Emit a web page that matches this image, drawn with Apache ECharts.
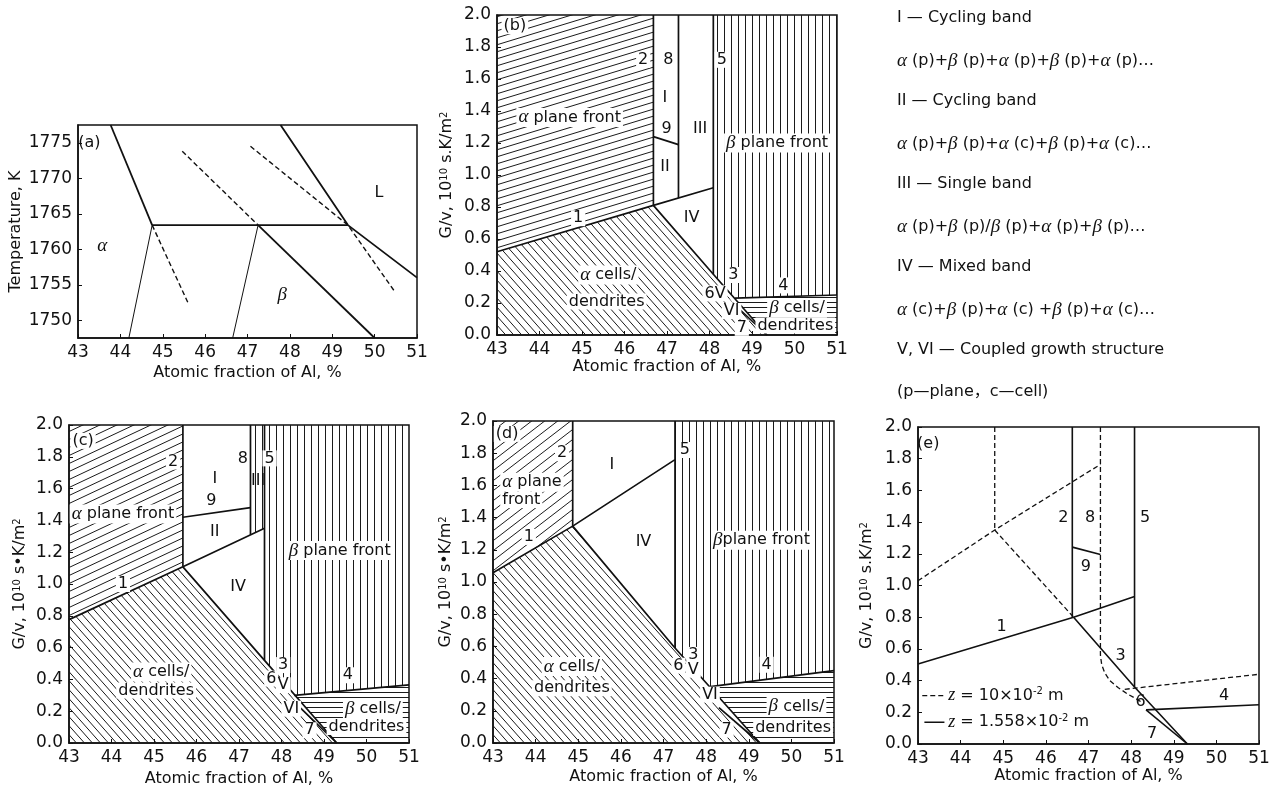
<!DOCTYPE html>
<html><head><meta charset="utf-8">
<script src="https://cdn.jsdelivr.net/npm/echarts@6/dist/echarts.min.js"></script>
<style>html,body{margin:0;padding:0;background:#fff}#c{width:1274px;height:796px}</style>
</head><body><div id="c"></div>
<script>
// ================= DATA =================
const xTicks = [43, 44, 45, 46, 47, 48, 49, 50, 51];
const tempTicks = [1750, 1755, 1760, 1765, 1770, 1775];
const xTitle = 'Atomic fraction of Al, %';
const tempTitle = 'Temperature, K';
const gvTitleDot = 'G/v, 10{sup|10} s.K/m{sup|2}';
const gvTitleBullet = 'G/v, 10{sup|10} s•K/m{sup|2}';

// ---- panel (a): phase diagram ----
const aThick = [
  [[43.77, 1777.5], [44.75, 1763.4]],
  [[44.75, 1763.4], [49.37, 1763.4]],
  [[47.78, 1777.5], [49.37, 1763.4], [51.0, 1756.0]],
  [[47.25, 1763.4], [50.0, 1747.5]]
];
const aThin = [
  [[44.75, 1763.4], [44.20, 1747.5]],
  [[47.25, 1763.4], [46.65, 1747.5]]
];
const aDashed = [
  [[44.75, 1763.4], [45.60, 1752.4]],
  [[45.46, 1773.8], [47.25, 1763.4]],
  [[47.07, 1774.5], [49.37, 1763.4], [50.49, 1753.9]]
];
const aLabels = [
  [43.27, 1775.0, '(a)'], [43.57, 1760.4, '{g|α}'], [47.82, 1753.6, '{g|β}'], [50.1, 1768.0, 'L']
];

// ---- panel (b) ----
const bLines = [
  [[43, 0.52], [46.68, 0.81], [48.09, 0.92]],
  [[46.68, 2], [46.68, 0.81]],
  [[47.27, 2], [47.27, 0.856]],
  [[46.68, 1.24], [47.27, 1.19]],
  [[48.09, 2], [48.09, 0.38]],
  [[46.68, 0.81], [48.09, 0.38], [49.35, 0]],
  [[48.6, 0.23], [51, 0.25]],
  [[48.55, 0.2], [49.35, 0]]
];
const bAlphaPlane = [[43, 2], [46.68, 2], [46.68, 0.81], [43, 0.52]];
const bAlphaCells = [[43, 0], [43, 0.52], [46.68, 0.81], [48.09, 0.38], [48.55, 0.2], [49.35, 0]];
const bBetaPlane = [[48.09, 2], [51, 2], [51, 0.25], [48.6, 0.23], [48.09, 0.38]];
const bBetaCells = [[48.6, 0.23], [51, 0.25], [51, 0], [49.35, 0]];
const bLabels = [
  [43.42, 1.93, '(b)', 1], [46.44, 1.72, '2', 1], [47.03, 1.72, '8'], [48.29, 1.72, '5', 1],
  [46.95, 1.48, 'I'], [46.99, 1.29, '9'], [47.78, 1.29, 'III'], [46.95, 1.05, 'II'],
  [44.71, 1.36, '{g|α} plane front', 1], [49.59, 1.20, '{g|β} plane front', 1],
  [44.91, 0.73, '1', 1], [47.58, 0.73, 'IV'],
  [45.62, 0.375, '{g|α} cells/', 1], [45.58, 0.21, 'dendrites', 1],
  [48.56, 0.375, '3', 1], [49.74, 0.31, '4', 1], [48.13, 0.26, '6V', 1], [48.52, 0.15, 'VI', 1],
  [48.76, 0.045, '7', 1], [50.06, 0.167, '{g|β} cells/', 1], [50.02, 0.06, 'dendrites', 1]
];

// ---- panel (c) ----
const cLines = [
  [[43, 0.776], [45.68, 1.108], [47.6, 1.35]],
  [[45.68, 2], [45.68, 1.108]],
  [[45.68, 1.42], [47.27, 1.48]],
  [[47.27, 2], [47.27, 1.31]],
  [[47.6, 2], [47.6, 0.52]],
  [[45.68, 1.108], [47.6, 0.52], [49.3, 0]],
  [[48.3, 0.30], [51, 0.365]],
  [[48.45, 0.22], [49.3, 0]]
];
const cAlphaPlane = [[43, 2], [45.68, 2], [45.68, 1.108], [43, 0.776]];
const cAlphaCells = [[43, 0], [43, 0.776], [45.68, 1.108], [47.6, 0.52], [48.45, 0.22], [49.3, 0]];
const cBetaPlane = [[47.6, 2], [51, 2], [51, 0.365], [48.3, 0.30], [47.6, 0.52]];
const cBandIII = [[47.27, 2], [47.6, 2], [47.6, 1.35], [47.27, 1.31]];
const cBetaCells = [[48.3, 0.30], [51, 0.365], [51, 0], [49.3, 0]];
const cLabels = [
  [43.33, 1.9, '(c)', 1], [45.45, 1.77, '2', 1], [47.09, 1.79, '8'], [47.72, 1.79, '5', 1],
  [46.43, 1.66, 'I'], [47.45, 1.65, 'III'], [46.35, 1.52, '9'],
  [44.27, 1.44, '{g|α} plane front', 1], [46.43, 1.33, 'II'], [49.37, 1.21, '{g|β} plane front', 1],
  [46.98, 0.98, 'IV'], [44.27, 1.0, '1', 1],
  [45.17, 0.447, '{g|α} cells/', 1], [45.05, 0.33, 'dendrites', 1],
  [48.04, 0.49, '3', 1], [47.76, 0.405, '6', 1], [48.04, 0.363, 'V', 1], [49.56, 0.426, '4', 1],
  [48.23, 0.216, 'VI', 1], [48.66, 0.08, '7', 1], [50.15, 0.216, '{g|β} cells/', 1], [50.0, 0.10, 'dendrites', 1]
];

// ---- panel (d) ----
const dLines = [
  [[43, 1.058], [44.87, 1.347], [47.27, 1.76]],
  [[44.87, 2], [44.87, 1.347]],
  [[47.27, 2], [47.27, 0.59]],
  [[44.87, 1.347], [47.27, 0.59], [49.26, 0]],
  [[48.1, 0.35], [51, 0.45]],
  [[48.3, 0.22], [49.26, 0]]
];
const dAlphaPlane = [[43, 2], [44.87, 2], [44.87, 1.347], [43, 1.058]];
const dAlphaCells = [[43, 0], [43, 1.058], [44.87, 1.347], [47.27, 0.59], [48.3, 0.22], [49.26, 0]];
const dBetaPlane = [[47.27, 2], [51, 2], [51, 0.45], [48.1, 0.35], [47.27, 0.59]];
const dBetaCells = [[48.1, 0.35], [51, 0.45], [51, 0], [49.26, 0]];
const dLabels = [
  [43.33, 1.92, '(d)', 1], [44.62, 1.80, '2', 1], [47.5, 1.82, '5', 1], [45.79, 1.725, 'I'],
  [43.17, 1.62, '{g|α} plane', 1, 'left'], [43.17, 1.51, 'front', 1, 'left'], [43.84, 1.28, '1', 1],
  [46.53, 1.25, 'IV'], [49.3, 1.26, '{g|β}plane front', 1],
  [44.85, 0.475, '{g|α} cells/', 1], [44.85, 0.34, 'dendrites', 1],
  [47.7, 0.547, '3', 1], [47.35, 0.48, '6', 1], [47.7, 0.455, 'V', 1], [49.42, 0.486, '4', 1],
  [48.09, 0.30, 'VI', 1], [48.48, 0.083, '7', 1], [50.12, 0.227, '{g|β} cells/', 1], [50.04, 0.093, 'dendrites', 1]
];

// ---- panel (e) ----
const eSolid = [
  [[43, 0.505], [46.65, 0.80], [48.08, 0.93]],
  [[46.62, 2], [46.62, 0.80]],
  [[46.62, 1.242], [47.28, 1.196]],
  [[48.08, 2], [48.08, 0.36]],
  [[46.65, 0.80], [48.08, 0.36], [49.32, 0]],
  [[48.35, 0.215], [51, 0.248]],
  [[48.35, 0.215], [49.32, 0]],
  [[43.15, 0.137], [43.62, 0.137]]
];
const eDashed = [
  [[43, 1.03], [44.8, 1.35], [47.28, 1.764]],
  [[44.8, 2], [44.8, 1.35]],
  [[44.8, 1.35], [46.65, 0.80]],
  [[47.28, 2], [47.28, 0.56], [47.31, 0.50], [47.38, 0.45], [47.5, 0.40], [47.7, 0.355], [47.92, 0.315], [48.12, 0.285], [48.3, 0.255]],
  [[47.85, 0.345], [51, 0.44]],
  [[43.1, 0.305], [43.62, 0.305]]
];
const eLabels = [
  [43.24, 1.895, '(e)'], [46.41, 1.43, '2'], [47.04, 1.43, '8'], [48.33, 1.43, '5'], [46.94, 1.116, '9'],
  [44.96, 0.737, '1'], [47.75, 0.558, '3'], [48.22, 0.263, '6'], [50.18, 0.305, '4'], [48.49, 0.063, '7'],
  [43.71, 0.305, '{i|z} = 10×10{sup|-2} m', 0, 'left'], [43.71, 0.137, '{i|z} = 1.558×10{sup|-2} m', 0, 'left']
];

// ---- right-hand key ----
const keyLines = [
  'I — Cycling band',
  '{g|α} (p)+{g|β} (p)+{g|α} (p)+{g|β} (p)+{g|α} (p)…',
  'II — Cycling band',
  '{g|α} (p)+{g|β} (p)+{g|α} (c)+{g|β} (p)+{g|α} (c)…',
  'III — Single band',
  '{g|α} (p)+{g|β} (p)/{g|β} (p)+{g|α} (p)+{g|β} (p)…',
  'IV — Mixed band',
  '{g|α} (c)+{g|β} (p)+{g|α} (c) +{g|β} (p)+{g|α} (c)…',
  'V, VI — Coupled growth structure',
  '(p—plane，c—cell)'
];

// ================= STYLE / LAYOUT =================
const FONT = 'DejaVu Sans';
const RICH = {
  g: { fontFamily: 'Liberation Serif', fontStyle: 'italic', fontSize: 19, color: '#111' },
  i: { fontFamily: 'Liberation Serif', fontStyle: 'italic', fontSize: 18, color: '#111' },
  sup: { fontSize: 10, verticalAlign: 'top', fontFamily: FONT, color: '#111' }
};

function makeHatch(kind, w, h) {
  const c = document.createElement('canvas');
  c.width = w; c.height = h;
  const g = c.getContext('2d');
  g.strokeStyle = '#1a1a1a'; g.lineWidth = 1;
  g.beginPath();
  if (kind === 'v') { g.moveTo(Math.floor(w / 2) + 0.5, 0); g.lineTo(Math.floor(w / 2) + 0.5, h); }
  else if (kind === 'h') { g.moveTo(0, Math.floor(h / 2) + 0.5); g.lineTo(w, Math.floor(h / 2) + 0.5); }
  else {
    const s = h / w;
    for (let k = -1; k <= 1; k++) {
      if (kind === 'fs') { g.moveTo(-2, h + k * h + 2 * s); g.lineTo(w + 2, k * h - 2 * s); }
      else { g.moveTo(-2, k * h - 2 * s); g.lineTo(w + 2, h + k * h + 2 * s); }
    }
  }
  g.stroke();
  return { image: c, repeat: 'repeat' };
}
const H = {
  apB: makeHatch('fs', 23, 7), apC: makeHatch('fs', 17, 8), apD: makeHatch('fs', 13, 10),
  ac: makeHatch('bs', 8, 9), bp: makeHatch('v', 7, 7), bc: makeHatch('h', 6, 5)
};

const grids = [
  { left: 78, top: 125, width: 339, height: 213 },
  { left: 497, top: 15, width: 340, height: 320 },
  { left: 69, top: 425, width: 340, height: 318 },
  { left: 493, top: 421, width: 341, height: 322 },
  { left: 918, top: 427, width: 341, height: 317 }
];
const xGaps = [27, 20, 28, 26, 24];
const yGaps = [54, 42, 41, 39, 43];

const series = [];
function poly(pts, gi, fill) {
  series.push({
    type: 'custom', xAxisIndex: gi, yAxisIndex: gi, z: 1, silent: true,
    data: [pts[0]],
    renderItem: (params, api) => ({
      type: 'polygon', shape: { points: pts.map(p => api.coord(p)) },
      style: { fill: fill, stroke: null }
    })
  });
}
function lines(list, gi, width, dashed) {
  list.forEach(d => series.push({
    type: 'line', xAxisIndex: gi, yAxisIndex: gi, data: d, symbol: 'none', z: 3, silent: true,
    lineStyle: { color: '#111', width: width, type: dashed ? [5, 3] : 'solid' }, animation: false
  }));
}
function labels(list, gi) {
  series.push({
    type: 'custom', xAxisIndex: gi, yAxisIndex: gi, z: 5, silent: true,
    data: list.map(l => [l[0], l[1]]),
    renderItem: (params, api) => {
      const l = list[params.dataIndex];
      const p = api.coord([l[0], l[1]]);
      return {
        type: 'text', x: p[0], y: p[1], z2: 10,
        style: {
          text: l[2], fill: '#111', fontSize: 16, fontFamily: FONT,
          align: l[4] || 'center', verticalAlign: 'middle',
          backgroundColor: l[3] ? '#fff' : null, padding: l[3] ? [0, 2, 0, 2] : 0,
          rich: RICH
        }
      };
    }
  });
}

// panel a
lines(aThick, 0, 1.8, false); lines(aThin, 0, 1, false); lines(aDashed, 0, 1.4, true); labels(aLabels, 0);
// panel b
poly(bAlphaPlane, 1, H.apB); poly(bAlphaCells, 1, H.ac); poly(bBetaPlane, 1, H.bp); poly(bBetaCells, 1, H.bc);
lines(bLines, 1, 1.7, false); labels(bLabels, 1);
// panel c
poly(cAlphaPlane, 2, H.apC); poly(cAlphaCells, 2, H.ac); poly(cBetaPlane, 2, H.bp); poly(cBandIII, 2, H.bp); poly(cBetaCells, 2, H.bc);
lines(cLines, 2, 1.7, false); labels(cLabels, 2);
// panel d
poly(dAlphaPlane, 3, H.apD); poly(dAlphaCells, 3, H.ac); poly(dBetaPlane, 3, H.bp); poly(dBetaCells, 3, H.bc);
lines(dLines, 3, 1.7, false); labels(dLabels, 3);
// panel e
lines(eSolid, 4, 1.6, false); lines(eDashed, 4, 1.3, true); labels(eLabels, 4);

const nameStyle = { color: '#111', fontSize: 16, fontFamily: FONT, rich: RICH };
const labelStyle = { color: '#111', fontSize: 17, fontFamily: FONT, margin: 6 };
const axisLine = { show: true, onZero: false, lineStyle: { color: '#111', width: 1.5 } };
const axisTick = { show: true, inside: true, length: 4, lineStyle: { color: '#111' } };

const xAxis = grids.map((g, i) => ({
  gridIndex: i, type: 'value', min: xTicks[0], max: xTicks[xTicks.length - 1], interval: 1,
  axisLine, axisTick, splitLine: { show: false },
  axisLabel: labelStyle,
  name: xTitle, nameLocation: 'middle', nameGap: xGaps[i], nameTextStyle: nameStyle
}));
const yNames = [tempTitle, gvTitleDot, gvTitleBullet, gvTitleBullet, gvTitleDot];
const yAxis = grids.map((g, i) => i === 0 ? ({
  gridIndex: 0, type: 'value', min: 1747.5, max: 1777.5, interval: 2.5,
  axisLine, splitLine: { show: false },
  axisTick: Object.assign({}, axisTick, { customValues: tempTicks }),
  axisLabel: Object.assign({}, labelStyle, { customValues: tempTicks, formatter: v => (v % 5 === 0 ? String(v) : '') }),
  name: yNames[0], nameLocation: 'middle', nameGap: yGaps[0], nameTextStyle: nameStyle
}) : ({
  gridIndex: i, type: 'value', min: 0, max: 2, interval: 0.2,
  axisLine, axisTick, splitLine: { show: false },
  axisLabel: Object.assign({}, labelStyle, { formatter: v => v.toFixed(1) }),
  name: yNames[i], nameLocation: 'middle', nameGap: yGaps[i], nameTextStyle: nameStyle
}));

const graphic = keyLines.map((t, i) => ({
  type: 'text', left: 897, top: 20 + i * 41.5 - 10,
  style: { text: t, fill: '#111', fontSize: 16, fontFamily: FONT + ', "Noto Sans CJK SC"', rich: RICH }
}));

const chart = echarts.init(document.getElementById('c'), null, { renderer: 'canvas' });
chart.setOption({
  backgroundColor: '#fff',
  animation: false,
  grid: grids.map(g => Object.assign({ show: true, borderColor: '#111', borderWidth: 1.5, containLabel: false }, g)),
  xAxis, yAxis, series, graphic
});
</script></body></html>
